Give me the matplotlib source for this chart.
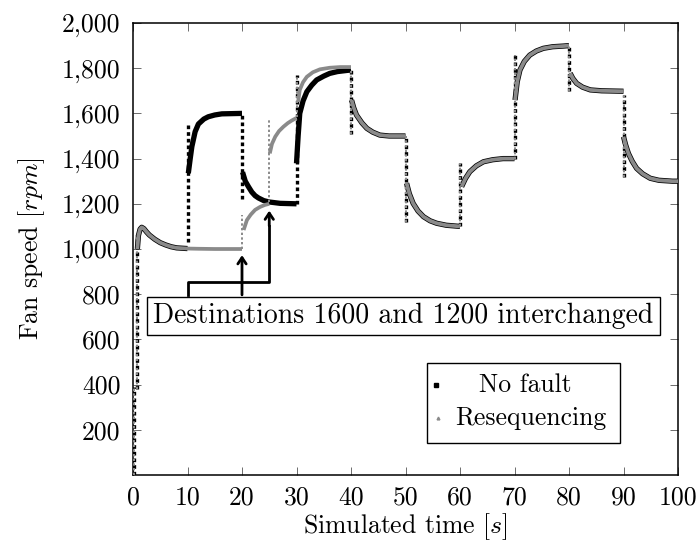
import numpy as np
import matplotlib
matplotlib.use("Agg")
import matplotlib.pyplot as plt
from matplotlib.patches import Rectangle

plt.rcParams["font.family"] = "serif"
plt.rcParams["font.serif"] = ["cmr10"]
plt.rcParams["mathtext.fontset"] = "cm"
plt.rcParams["axes.unicode_minus"] = False

# start-up transient, identical for both runs
start_t = [0.8, 1.0, 1.3, 1.6, 2.0, 2.5, 3.0, 4.0, 5.0, 6.0, 7.0, 8.0, 10.0]
start_rpm = [1000, 1060, 1088, 1096, 1090, 1075, 1062, 1043, 1028, 1018, 1010, 1005, 1002]

# no fault: 1600 at t=10, 1200 at t=20, 1800 at t=30
nf_seg1_t = [10.15, 10.5, 10.8, 11.4, 12.0, 13.0, 13.8, 15.0, 16.3, 20.0]
nf_seg1_rpm = [1335, 1400, 1453, 1519, 1553, 1575, 1585, 1593, 1598, 1600]
nf_seg2_t = [20.1, 20.6, 21.2, 21.8, 22.4, 23.0, 24.0, 25.0, 27.0, 30.0]
nf_seg2_rpm = [1340, 1300, 1275, 1252, 1236, 1226, 1214, 1208, 1202, 1200]
nf_seg3_t = [30.0, 30.3, 30.6, 31.2, 31.9, 32.8, 33.7, 35.0, 36.1, 37.5, 39.2, 40.0]
nf_seg3_rpm = [1379, 1500, 1600, 1655, 1696, 1725, 1748, 1765, 1777, 1785, 1790, 1792]

# resequencing: stays at 1000 until t=20, 1200 at t=20, 1600 at t=25, 1800 at t=30
rs_seg0_t = [12.0, 15.0, 20.0]
rs_seg0_rpm = [1001, 1000, 1000]
rs_seg1_t = [20.3, 20.9, 21.6, 22.4, 23.3, 24.2, 25.0]
rs_seg1_rpm = [1084, 1128, 1152, 1173, 1186, 1195, 1200]
rs_seg2_t = [25.1, 25.5, 26.1, 26.8, 27.6, 28.4, 29.1, 30.0]
rs_seg2_rpm = [1423, 1465, 1497, 1522, 1541, 1557, 1568, 1580]
rs_seg3_t = [30.3, 30.6, 31.2, 31.9, 33.0, 34.3, 36.1, 38.0, 40.0]
rs_seg3_rpm = [1650, 1704, 1738, 1762, 1782, 1795, 1802, 1805, 1805]

# from t=40 on both runs follow the same destinations
tail_segs = [
    ([40.1, 40.5, 41.0, 42.0, 42.9, 44.0, 45.3, 47.0, 50.0],
     [1659, 1625, 1593, 1558, 1534, 1517, 1504, 1500, 1500]),
    ([50.2, 50.7, 51.4, 52.3, 53.3, 54.5, 55.7, 57.5, 60.0],
     [1291, 1245, 1202, 1168, 1143, 1125, 1114, 1105, 1100]),
    ([60.3, 61.0, 61.8, 63.0, 64.3, 66.0, 67.9, 70.0],
     [1276, 1312, 1342, 1368, 1386, 1395, 1400, 1400]),
    ([70.1, 70.5, 71.0, 71.8, 72.8, 74.0, 75.3, 77.0, 79.0, 80.0],
     [1659, 1740, 1792, 1830, 1858, 1876, 1888, 1895, 1898, 1900]),
    ([80.2, 80.7, 81.4, 82.5, 83.9, 86.0, 90.0],
     [1778, 1755, 1733, 1716, 1704, 1700, 1698]),
    ([90.0, 90.4, 90.9, 91.6, 92.4, 93.5, 94.9, 96.5, 99.0, 100.0],
     [1497, 1460, 1423, 1388, 1357, 1333, 1313, 1304, 1300, 1300]),
]

# sample columns right after each setpoint change: time, lowest, highest rpm
nf_jump_t = [0.15, 0.8, 10.0, 20.0, 30.0, 40.0, 50.0, 60.0, 70.0, 80.0, 90.0]
nf_jump_lo = [0, 380, 1030, 1220, 1200, 1510, 1120, 1100, 1400, 1700, 1320]
nf_jump_hi = [390, 1060, 1560, 1600, 1770, 1795, 1500, 1380, 1860, 1900, 1680]
rs_jump_t = [0.15, 0.8, 20.0, 25.0, 30.0, 40.0, 50.0, 60.0, 70.0, 80.0, 90.0]
rs_jump_lo = [0, 380, 1000, 1210, 1585, 1510, 1120, 1100, 1400, 1700, 1320]
rs_jump_hi = [390, 1060, 1150, 1570, 1770, 1795, 1500, 1380, 1860, 1900, 1680]

x_ticks = list(range(0, 101, 10))
y_ticks = list(range(200, 2001, 200))

note_text = "Destinations 1600 and 1200 interchanged"


def join(segs):
    """Concatenate curve pieces, breaking the line between them."""
    ts, vs = [], []
    for t, v in segs:
        ts += list(t) + [np.nan]
        vs += list(v) + [np.nan]
    return np.array(ts), np.array(vs)


nf_t, nf_rpm = join([(start_t, start_rpm), (nf_seg1_t, nf_seg1_rpm),
                     (nf_seg2_t, nf_seg2_rpm), (nf_seg3_t, nf_seg3_rpm)] + tail_segs)
rs_t, rs_rpm = join([(start_t + rs_seg0_t, start_rpm + rs_seg0_rpm),
                     (rs_seg1_t, rs_seg1_rpm), (rs_seg2_t, rs_seg2_rpm),
                     (rs_seg3_t, rs_seg3_rpm)] + tail_segs)

fig = plt.figure(figsize=(6.99, 5.52), dpi=100)
ax = fig.add_axes([133 / 699, 77 / 552, 545 / 699, 452 / 552])

BLACK = "#000000"
GRAY = "#8a8a8a"

ax.plot(nf_t, nf_rpm, color=BLACK, lw=3.8, solid_capstyle="butt", zorder=2)
ax.vlines(nf_jump_t, nf_jump_lo, nf_jump_hi, colors=BLACK, lw=2.4,
          linestyles=(0, (1.1, 0.9)), zorder=2)
ax.plot(rs_t, rs_rpm, color=GRAY, lw=2.7, solid_capstyle="butt", zorder=3)
ax.vlines(rs_jump_t, rs_jump_lo, rs_jump_hi, colors=GRAY, lw=1.4,
          linestyles=(0, (1.2, 1.2)), zorder=3)

# arrows from the note to the two swapped destinations
ax.plot([10, 10, 25, 25], [797, 855, 855, 1100], color="k", lw=2,
        solid_joinstyle="round", zorder=4)
ax.annotate("", xy=(25, 1182), xytext=(25, 1090),
            arrowprops=dict(arrowstyle="->,head_length=0.45,head_width=0.3",
                            color="k", lw=2), zorder=4)
ax.annotate("", xy=(20, 985), xytext=(20, 797),
            arrowprops=dict(arrowstyle="->,head_length=0.45,head_width=0.3",
                            color="k", lw=2, shrinkA=0), zorder=4)

ax.text(49.6, 703, note_text, ha="center", va="center", fontsize=20, zorder=6,
        bbox=dict(boxstyle="square,pad=0.22", fc="white", ec="k", lw=1))

# legend drawn by hand so the labels sit centred like the original
ax.add_patch(Rectangle((0.539, 0.071), 0.355, 0.177, transform=ax.transAxes,
                       fc="white", ec="k", lw=1, zorder=6))
ax.plot([0.556], [0.199], "s", ms=3.5, color="k", transform=ax.transAxes, zorder=7)
ax.plot([0.560], [0.126], "^", ms=2, color=GRAY, transform=ax.transAxes, zorder=7)
ax.text(0.719, 0.199, "No fault", ha="center", va="center", fontsize=18.5,
        transform=ax.transAxes, zorder=7)
ax.text(0.729, 0.126, "Resequencing", ha="center", va="center", fontsize=18.5,
        transform=ax.transAxes, zorder=7)

ax.set_xlim(0, 100)
ax.set_ylim(0, 2000)
ax.set_xticks(x_ticks)
ax.set_xticklabels([str(v) for v in x_ticks])
ax.set_yticks(y_ticks)
ax.set_yticklabels([f"{v:,}" for v in y_ticks])
ax.tick_params(direction="in", length=6, width=0.6, labelsize=18.5,
               top=True, right=True, color="#555555")
ax.tick_params(axis="y", pad=9)
ax.tick_params(axis="x", pad=8)
for s in ax.spines.values():
    s.set_linewidth(1.1)

ax.set_xlabel("Simulated time [$s$]", fontsize=18.5, labelpad=1)
ax.set_ylabel("Fan speed [$rpm$]", fontsize=18.5, labelpad=11)

fig.savefig("out.png", dpi=100)
